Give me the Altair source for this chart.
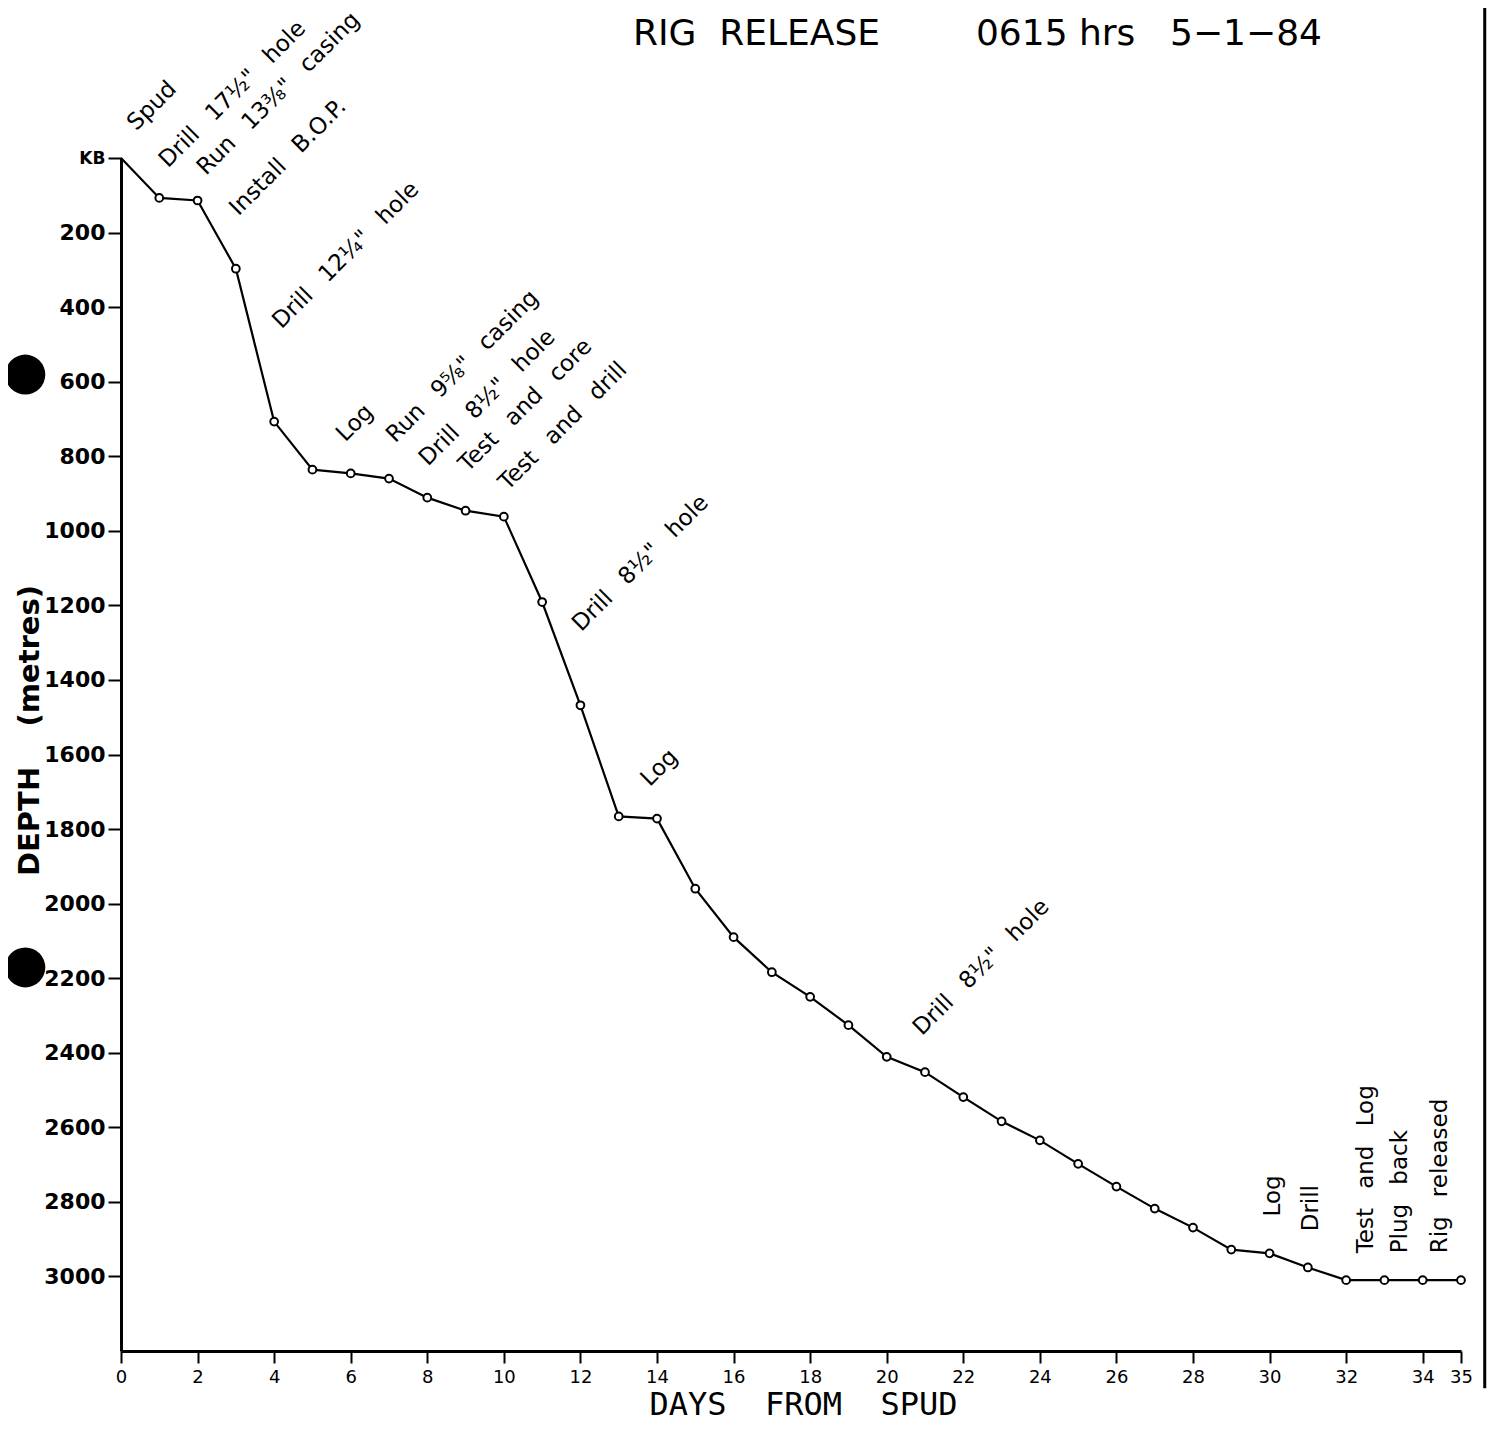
import altair as alt
import pandas as pd

NB = "\u00a0"
GAP = NB + "\u2009 "

# ---- data ----
days = list(range(0, 36))
depths = [0, 107, 114, 297, 707, 836, 846, 860, 911, 946, 962, 1191, 1468,
          1766, 1772, 1960, 2090, 2184, 2250, 2326, 2411, 2452, 2519, 2584,
          2635, 2698, 2759, 2818, 2869, 2928, 2938, 2976, 3010, 3010, 3010, 3010]

diag_labels = ["Spud",
               "Drill" + GAP + "17½\"" + GAP + "hole",
               "Run" + GAP + "13⅜\"" + GAP + "casing",
               "Install" + GAP + "B.O.P.",
               "Drill" + GAP + "12¼\"" + GAP + "hole",
               "Log",
               "Run" + GAP + "9⅝\"" + GAP + "casing",
               "Drill" + GAP + "8½\"" + GAP + "hole",
               "Test" + GAP + "and" + GAP + "core",
               "Test" + GAP + "and" + GAP + "drill",
               "Drill" + GAP + "8½\"" + GAP + "hole",
               "Log",
               "Drill" + GAP + "8½\"" + GAP + "hole"]
diag_days = [0.40, 1.23, 2.22, 3.07, 4.19, 5.86, 7.16, 8.02, 9.06, 10.10, 12.02, 13.81, 20.92]
diag_depths = [-71, 28, 48, 157, 460, 763, 766, 828, 844, 894, 1272, 1688, 2356]

vert_labels = ["Log", "Drill", "Test" + GAP + "and" + GAP + "Log",
               "Plug" + GAP + "back", "Rig" + GAP + "released"]
vert_days = [30.27, 31.27, 32.69, 33.58, 34.63]
vert_depths = [2839, 2879, 2938, 2938, 2938]

# heading of the sheet, in three pieces
title_parts = ["RIG" + NB + " RELEASE", "0615" + NB + "hrs", "5−1−84"]
title_days = [13.37, 22.33, 27.40]
title_depth = [-304, -304, -304]

x_ticks = list(range(0, 35, 2)) + [35]
y_ticks = list(range(0, 3001, 200))

# scan artefacts: binder punch holes and page edge
hole_days = [-2.5, -2.5]
hole_depths = [581, 2171]
edge_days = [35.62]
edge_top = [-425]
edge_bottom = [3300]

x_title = "DAYS" + NB * 2 + "FROM" + NB * 2 + "SPUD"
y_title = "DEPTH" + NB * 4 + "(metres)"

FONT = "DejaVu Sans"
LETTER = "DejaVu Sans Mono"

line_df = pd.DataFrame({"day": days, "depth": depths})
pts_df = line_df.iloc[1:]
diag_df = pd.DataFrame({"day": diag_days, "depth": diag_depths, "label": diag_labels})
vert_df = pd.DataFrame({"day": vert_days, "depth": vert_depths, "label": vert_labels})
title_df = pd.DataFrame({"day": title_days, "depth": title_depth, "label": title_parts})
hole_df = pd.DataFrame({"day": hole_days, "depth": hole_depths})
edge_df = pd.DataFrame({"day": edge_days, "depth": edge_top, "depth2": edge_bottom})

x_scale = alt.Scale(domain=[0, 35], nice=False, zero=False)
y_scale = alt.Scale(domain=[0, 3200], reverse=True, nice=False, zero=False)

x_axis = alt.Axis(values=x_ticks, grid=False, domainColor="black", domainWidth=3,
                  tickColor="black", tickWidth=2, tickSize=12,
                  labelFont=FONT, labelFontSize=18, labelColor="black", labelPadding=5,
                  labelFlush=False, labelOverlap=False,
                  title=x_title, titleFont=LETTER, titleFontSize=32, titleFontWeight="normal",
                  titleColor="black", titleX=682, titleY=63, titleAlign="center",
                  titleBaseline="alphabetic")
y_axis = alt.Axis(values=y_ticks, grid=False, domainColor="black", domainWidth=3,
                  tickColor="black", tickWidth=2, tickSize=13,
                  labelExpr="datum.value == 0 ? 'KB' : datum.label",
                  labelFont=FONT, labelFontWeight="bold", labelColor="black",
                  labelFontSize={"condition": {"test": "datum.value == 0", "value": 17}, "value": 22},
                  labelPadding=3, labelFlush=False, labelOverlap=False,
                  format="d",
                  title=y_title, titleFont=FONT, titleFontSize=29, titleFontWeight="bold",
                  titleColor="black", titleAngle=270, titleX=-83, titleY=572,
                  titleAlign="center", titleBaseline="alphabetic")

X = alt.X("day:Q", scale=x_scale, axis=x_axis)
Y = alt.Y("depth:Q", scale=y_scale, axis=y_axis)

edge = alt.Chart(edge_df).mark_rule(color="black", strokeWidth=3, clip=False).encode(
    x=X, y=Y, y2=alt.Y2("depth2:Q"))
holes = alt.Chart(hole_df).mark_point(shape="circle", filled=True, color="black",
                                      size=1600, opacity=1, clip=False).encode(x=X, y=Y)
line = alt.Chart(line_df).mark_line(color="black", strokeWidth=2.2).encode(x=X, y=Y)
pts = alt.Chart(pts_df).mark_point(shape="circle", filled=True, fill="white",
                                   stroke="black", strokeWidth=2, size=60,
                                   opacity=1).encode(x=X, y=Y)
diag = alt.Chart(diag_df).mark_text(angle=315, align="left", baseline="alphabetic",
                                    font=FONT, fontSize=23, color="black",
                                    clip=False).encode(x=X, y=Y, text="label:N")
vert = alt.Chart(vert_df).mark_text(angle=270, align="left", baseline="alphabetic",
                                    font=FONT, fontSize=23, color="black",
                                    clip=False).encode(x=X, y=Y, text="label:N")
heading = alt.Chart(title_df).mark_text(align="left", baseline="alphabetic",
                                        font=FONT, fontSize=36, color="black",
                                        clip=False).encode(x=X, y=Y, text="label:N")

chart = alt.layer(edge, holes, line, pts, diag, vert, heading).properties(
    width=1340, height=1193,
    autosize=alt.AutoSizeParams(type="none"),
    padding={"left": 113, "top": 150, "right": 28, "bottom": 72},
).configure(background="white").configure_view(stroke=None)

chart.save("out.html", embed_options={"renderer": "svg", "actions": False})
